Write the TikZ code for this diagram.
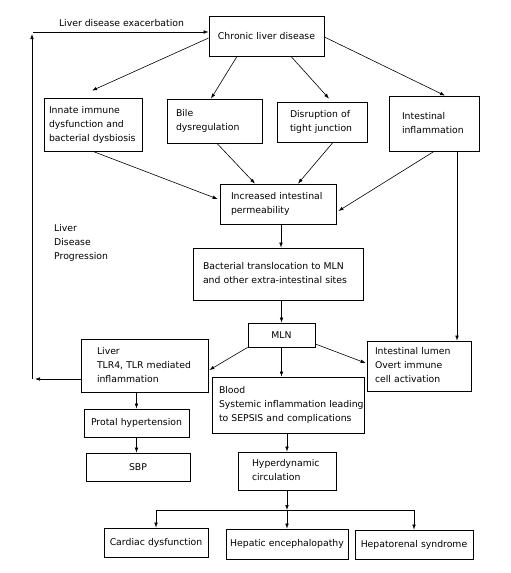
\documentclass[tikz,border=0pt]{standalone}
\usepackage{fontspec}
\setmainfont{DejaVu Sans}
\usetikzlibrary{arrows.meta,calc}
\newcommand\tl[1]{\begin{tabular}{@{}l@{}}#1\end{tabular}}
\begin{document}
\begin{tikzpicture}[x=1pt,y=-1pt,
  box/.style={draw,line width=0.8pt,inner ysep=0pt,align=left,
    font=\fontsize{9.3}{13.8}\selectfont},
  cbox/.style={box,align=center},
  lbl/.style={font=\fontsize{9.3}{13.8}\selectfont,inner sep=0pt,align=left},
  arr/.style={line width=0.6pt,-{Latex[length=5pt,width=3.6pt]}},
  ln/.style={line width=0.6pt}]
\useasboundingbox (0,0) rectangle (511,573);

% boxes
\node[cbox,minimum width=115pt,minimum height=40pt,text width=107pt,inner xsep=4pt] (cld) at (266.5,36) {Chronic liver disease};
\node[box,minimum width=98pt,minimum height=53pt,text width=88pt,inner xsep=5pt] (innate) at (93,124.5) {\tl{Innate immune\\dysfunction and\\bacterial dysbiosis}};
\node[box,minimum width=95pt,minimum height=44pt,text width=77pt,inner xsep=9pt] (bile) at (214.5,121) {\tl{Bile\\dysregulation}};
\node[box,minimum width=90pt,minimum height=40pt,text width=64pt,inner xsep=13pt] (tight) at (322,122) {\tl{Disruption of\\tight junction}};
\node[box,minimum width=90pt,minimum height=55pt,text width=64pt,inner xsep=13pt] (infl) at (434,123.5) {\tl{Intestinal\\inflammation}};
\node[box,minimum width=116pt,minimum height=40pt,text width=94pt,inner xsep=11pt] (perm) at (278,204) {\tl{Increased intestinal\\permeability}};
\node[box,minimum width=170pt,minimum height=52pt,text width=150pt,inner xsep=10pt] (bact) at (278,274) {\tl{Bacterial translocation to MLN\\and other extra-intestinal sites}};
\node[cbox,minimum width=67pt,minimum height=24pt,text width=59pt,inner xsep=4pt] (mln) at (281.5,335) {MLN};
\node[box,minimum width=127pt,minimum height=53pt,text width=95pt,inner xsep=16pt] (liver) at (144.5,365.5) {\tl{Liver\\TLR4, TLR mediated\\inflammation}};
\node[box,minimum width=104pt,minimum height=50pt,text width=88pt,inner xsep=8pt] (lumen) at (419,366) {\tl{Intestinal lumen\\Overt immune\\cell activation}};
\node[box,minimum width=152pt,minimum height=56pt,text width=138pt,inner xsep=7pt] (blood) at (288,405) {\tl{Blood\\Systemic inflammation leading\\to SEPSIS and complications}};
\node[cbox,minimum width=105pt,minimum height=28pt,text width=99pt,inner xsep=3pt] (protal) at (136.5,423) {Protal hypertension};
\node[cbox,minimum width=104pt,minimum height=28pt,text width=96pt,inner xsep=4pt] (sbp) at (138,467) {SBP};
\node[box,minimum width=98pt,minimum height=38pt,text width=70pt,inner xsep=14pt] (hyper) at (287,471) {\tl{Hyperdynamic\\circulation}};
\node[cbox,minimum width=104pt,minimum height=29pt,text width=100pt,inner xsep=2pt] (cardiac) at (156,542.5) {Cardiac dysfunction};
\node[cbox,minimum width=122pt,minimum height=30pt,text width=118pt,inner xsep=2pt] (hepenc) at (287,544) {Hepatic encephalopathy};
\node[cbox,minimum width=118pt,minimum height=29pt,text width=114pt,inner xsep=2pt] (hepren) at (414,544.5) {Hepatorenal syndrome};

% free labels
\node[lbl] (exac) at (121.5,23) {Liver disease exacerbation};
\node[lbl,anchor=west] (prog) at (54,243) {Liver\\Disease\\Progression};

% coordinates for feedback loop and split
\coordinate (lbe) at (35,379);
\coordinate (lb) at (32,379);
\coordinate (lt) at (32,34);
\coordinate (ls) at (33,32);
\coordinate (split) at (287,510);
\coordinate (sl) at (156,510);
\coordinate (sr) at (414,510);

% from chronic liver disease
\draw[arr] ([yshift=-2pt]cld.west) -- ([shift={(-1pt,7pt)}]innate.north);
\draw[arr] ([xshift=-29.5pt]cld.south) -- ([xshift=-3.5pt]bile.north);
\draw[arr] ([xshift=24.5pt]cld.south) -- ([shift={(7pt,3pt)}]tight.north);
\draw[arr] ([yshift=-1pt]cld.east) -- ([xshift=11pt]infl.north);

% into permeability
\draw[arr] (innate.south) -- ([shift={(-2pt,5pt)}]perm.west);
\draw[arr] ([xshift=2.5pt]bile.south) -- ([xshift=-23pt]perm.north);
\draw[arr] ([xshift=11pt]tight.south) -- ([xshift=20pt]perm.north);
\draw[arr] (infl.south) -- ([shift={(2pt,-7pt)}]perm.east);
\draw[arr] ([xshift=23pt]infl.south) -- ([xshift=23pt]infl.south |- lumen.north);

% main chain
\draw[arr] ([xshift=3pt]perm.south) -- ([xshift=3pt]bact.north);
\draw[arr] (bact.south -| mln.north) -- (mln.north);
\draw[arr] (mln.south west) -- ([shift={(1pt,-4.5pt)}]liver.east);
\draw[arr] (mln.south) -- (mln.south |- blood.north);
\draw[arr] ([yshift=-9pt]mln.east) -- ([shift={(-1pt,3pt)}]lumen.west);
\draw[arr] (protal.north |- liver.south) -- (protal.north);
\draw[arr] (protal.south) -- (protal.south |- sbp.north);
\draw[arr] (hyper.north |- blood.south) -- (hyper.north);

% feedback loop
\draw[arr] ([yshift=-13.5pt]liver.west) -- (lbe);
\draw[arr] (lb) -- (lt);
\draw[arr] (ls) -- ([yshift=4pt]cld.west);

% split to complications
\draw[arr] (hyper.south) -- (split);
\draw[ln] (sl) -- (sr);
\draw[arr] (sl) -- (cardiac.north);
\draw[arr] (split) -- (hepenc.north);
\draw[arr] (sr) -- (hepren.north);
\end{tikzpicture}
\end{document}
